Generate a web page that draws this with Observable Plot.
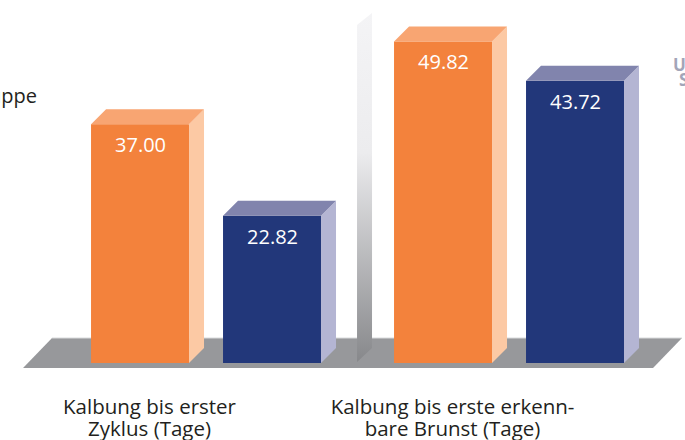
<!DOCTYPE html>
<html><head><meta charset="utf-8">
<script src="https://cdn.jsdelivr.net/npm/d3@7"></script>
<script src="https://cdn.jsdelivr.net/npm/@observablehq/plot@0.6"></script>
<style>body{margin:0;background:#fff;overflow:hidden} #chart svg{display:block}</style>
</head><body><div id="chart"></div>
<script>
// ---- data ----
const categories = ["Kalbung bis erster\nZyklus (Tage)", "Kalbung bis erste erkenn-\nbare Brunst (Tage)"];
const series = ["Kontrollgruppe", "Untersuchungsgruppe"];
const kontrollValues = [37.00, 49.82];
const untersValues = [22.82, 43.72];
const legendLeft = "Kontrollgruppe";
const legendRight = ["Untersuchungs-", "Serie"];
// ---- styles ----
const frontColors = ["#f3823c", "#22377a"];
const topColors = ["#f8a572", "#8184ad"];
const sideColors = ["#fcc9a4", "#b4b5d3"];

const rows = [];
categories.forEach((c, i) => {
  rows.push({cat: c, series: series[0], value: kontrollValues[i]});
  rows.push({cat: c, series: series[1], value: untersValues[i]});
});

const plot = Plot.plot({
  width: 685, height: 440,
  marginLeft: 62.1, marginRight: 32.05, marginTop: 8, marginBottom: 77,
  style: {fontFamily: "Open Sans", background: "white"},
  fx: {domain: categories, paddingInner: 0.05, paddingOuter: 0, round: false, axis: null},
  x: {domain: series, paddingInner: 0.2576, paddingOuter: 0.2192, round: false, axis: null},
  y: {domain: [0, 55], axis: null},
  color: {domain: series, range: frontColors},
  marks: [
    Plot.barY(rows, {fx: "cat", x: "series", y: "value", fill: "series"}),
    Plot.text(rows, {fx: "cat", x: "series", y: "value", text: d => d.value.toFixed(2),
      fill: "white", fontSize: 20, dy: 21}),
    Plot.text(categories, {fx: d => d, x: () => series[0], text: d => d, frameAnchor: "bottom",
      lineAnchor: "top", dy: 34.4, dx: 9, lineHeight: 1.073, fontSize: 20.5, fill: "#231f20"})
  ]
});
document.getElementById("chart").append(plot);

// ---- 3D decorations derived from the rendered bars ----
const svg = d3.select(plot);
const sb = plot.getBoundingClientRect();
const yScale = plot.scale("y");
const y0 = yScale.apply(0);
const yMax = yScale.apply(55);
const D = 15;
const bars = Array.from(plot.querySelectorAll('g[aria-label="bar"] rect')).map(r => {
  const b = r.getBoundingClientRect();
  return {x0: b.left - sb.left, x1: b.right - sb.left, y: b.top - sb.top, fill: r.getAttribute("fill")};
}).sort((a, b) => a.x0 - b.x0);

const defs = svg.insert("defs", ":first-child");
const grad = defs.append("linearGradient").attr("id", "divgrad").attr("x1", 0).attr("y1", 0).attr("x2", 0).attr("y2", 1);
grad.append("stop").attr("offset", "0%").attr("stop-color", "#f4f4f6");
grad.append("stop").attr("offset", "40%").attr("stop-color", "#ececee");
grad.append("stop").attr("offset", "100%").attr("stop-color", "#87888b");

const back = svg.insert("g", "defs + *");
const xmin = d3.min(bars, b => b.x0), xmax = d3.max(bars, b => b.x1) + D;
const pt = p => p.map(q => q.join(",")).join(" ");
back.append("polygon").attr("points", pt([[xmin - 39, y0 - 25], [xmax + 43, y0 - 25], [xmax + 14, y0 + 5], [xmin - 68, y0 + 5]]))
  .attr("fill", "#97989b");
back.append("line").attr("x1", xmin - 39).attr("x2", xmax + 43).attr("y1", y0 - 25).attr("y2", y0 - 25)
  .attr("stroke", "#d9dadc").attr("stroke-width", 1);
const mid = (bars[1].x1 + D + bars[2].x0) / 2;
const L = mid - 8, R = mid + 7;
back.append("polygon").attr("points", pt([[L, yMax + 17], [R, yMax + 5], [R, y0 - 15], [L, y0 - 1]]))
  .attr("fill", "url(#divgrad)");

const front = svg.append("g");
bars.forEach(b => {
  const k = frontColors.indexOf(b.fill);
  front.append("polygon").attr("points", pt([[b.x1, b.y], [b.x1 + D, b.y - D], [b.x1 + D, y0 - D], [b.x1, y0]]))
    .attr("fill", sideColors[k]);
  front.append("polygon").attr("points", pt([[b.x0, b.y], [b.x0 + D, b.y - D], [b.x1 + D, b.y - D], [b.x1, b.y]]))
    .attr("fill", topColors[k]);
});

// legend fragments (cut off at the edges, as in the source)
svg.append("text").attr("x", 37).attr("y", 103).attr("text-anchor", "end")
  .attr("font-size", 20).attr("fill", "#231f20").text(legendLeft);
svg.append("text").attr("x", 673).attr("y", 71).attr("text-anchor", "start").attr("font-size", 17).attr("font-weight", "bold")
  .attr("fill", "#a3a5b8").text(legendRight[0]);
svg.append("text").attr("x", 679).attr("y", 86).attr("text-anchor", "start").attr("font-size", 17).attr("font-weight", "bold")
  .attr("fill", "#a3a5b8").text(legendRight[1]);
</script>
</body></html>
